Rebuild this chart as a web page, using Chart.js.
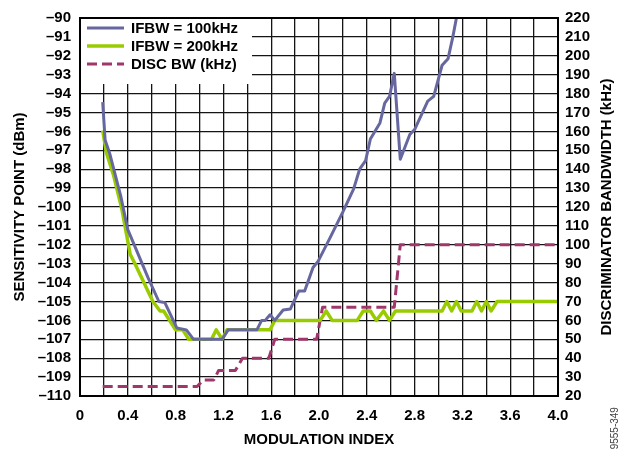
<!DOCTYPE html>
<html>
<head>
<meta charset="utf-8">
<script src="https://cdn.jsdelivr.net/npm/chart.js@4.4.0/dist/chart.umd.min.js"></script>
<style>
    html, body { margin: 0; padding: 0; background: #fff; }
    #wrap { width: 618px; height: 449px; position: relative; }
</style>
</head>
<body>
<div id="wrap"><canvas id="chart"></canvas></div>
<script>
// Values
const ifbw100X = [0.19, 0.21, 0.25, 0.34, 0.40, 0.46, 0.57, 0.66, 0.71, 0.81, 0.89, 0.95, 1.13, 1.19, 1.24, 1.48, 1.52, 1.55, 1.59, 1.63, 1.70, 1.76, 1.83, 1.88, 1.95, 1.99, 2.09, 2.20, 2.29, 2.34, 2.39, 2.43, 2.51, 2.55, 2.59, 2.63, 2.68, 2.76, 2.80, 2.91, 2.96, 3.03, 3.08, 3.12, 3.15];
const ifbw100Y = [-94.45, -96.45, -97.2, -99.4, -101.2, -102.1, -103.75, -105.0, -105.06, -106.4, -106.5, -107.0, -107.0, -107.0, -106.5, -106.5, -106.0, -106.0, -105.7, -106.0, -105.45, -105.4, -104.45, -104.45, -103.2, -102.9, -101.66, -100.26, -99.04, -98.0, -97.55, -96.4, -95.55, -94.5, -94.15, -92.93, -97.47, -96.16, -95.9, -94.4, -94.15, -92.5, -92.15, -91.0, -90.0];

const ifbw200X = [0.19, 0.22, 0.28, 0.35, 0.42, 0.46, 0.61, 0.67, 0.70, 0.80, 0.86, 0.91, 1.10, 1.14, 1.19, 1.23, 1.59, 1.63, 2.01, 2.06, 2.11, 2.32, 2.37, 2.43, 2.48, 2.54, 2.59, 2.64, 3.03, 3.07, 3.11, 3.15, 3.19, 3.28, 3.32, 3.36, 3.40, 3.44, 3.49, 4.0];
const ifbw200Y = [-95.95, -97.1, -98.3, -100.1, -102.5, -103.0, -105.0, -105.5, -105.5, -106.5, -106.5, -107.0, -107.0, -106.5, -107.0, -106.5, -106.5, -106.0, -106.0, -105.5, -106.0, -106.0, -105.5, -105.5, -106.0, -105.5, -106.0, -105.5, -105.5, -105.0, -105.5, -105.0, -105.5, -105.5, -105.0, -105.5, -105.0, -105.5, -105.0, -105.0];

const discX = [0.19, 0.98, 1.03, 1.12, 1.16, 1.30, 1.36, 1.58, 1.63, 1.98, 2.03, 2.63, 2.68, 4.0];
const discY = [25, 25, 28.5, 28.5, 33.5, 33.5, 40, 40, 50, 50, 67, 67, 100, 100];

const seriesNames = ['IFBW = 100kHz', 'IFBW = 200kHz', 'DISC BW (kHz)'];
const seriesColors = ['#6767a0', '#99cc00', '#a0376c'];

const xTitle = 'MODULATION INDEX';
const yTitle = 'SENSITIVITY POINT (dBm)';
const y2Title = 'DISCRIMINATOR BANDWIDTH (kHz)';
const figureId = '09555-349';

function toPoints(xs, ys) {
    return xs.map((x, i) => ({ x: x, y: ys[i] }));
}

const FONT = 'Liberation Sans, Arial, sans-serif';
const gridColor = '#141414';

// legend box in the top-left corner + frame + rotated right title
const extrasPlugin = {
    id: 'extras',
    afterDraw(chart) {
        const ctx = chart.ctx;
        const area = chart.chartArea;
        ctx.save();

        // legend
        ctx.fillStyle = '#fff';
        ctx.fillRect(area.left + 1, area.top + 1, 171, 65);
        const rows = [28, 46, 64];
        ctx.font = 'bold 15px ' + FONT;
        ctx.textBaseline = 'middle';
        ctx.textAlign = 'left';
        rows.forEach((ry, i) => {
            ctx.beginPath();
            ctx.strokeStyle = seriesColors[i];
            ctx.lineWidth = i === 1 ? 3.5 : 3;
            ctx.setLineDash(i === 2 ? [10, 5] : []);
            ctx.moveTo(87, ry);
            ctx.lineTo(124, ry);
            ctx.stroke();
            ctx.setLineDash([]);
            ctx.fillStyle = '#000';
            ctx.fillText(seriesNames[i], 131, ry + 1);
        });

        // frame
        ctx.strokeStyle = '#000';
        ctx.lineWidth = 2;
        ctx.strokeRect(area.left, area.top, area.right - area.left, area.bottom - area.top);

        // right axis title, reads bottom to top
        ctx.translate(607, (area.top + area.bottom) / 2);
        ctx.rotate(-Math.PI / 2);
        ctx.textAlign = 'center';
        ctx.fillStyle = '#000';
        ctx.fillText(y2Title, 0, 0);
        ctx.restore();

        // figure number
        ctx.save();
        ctx.translate(615, 431);
        ctx.rotate(-Math.PI / 2);
        ctx.font = '10px ' + FONT;
        ctx.fillStyle = '#444';
        ctx.textAlign = 'center';
        ctx.textBaseline = 'middle';
        ctx.fillText(figureId, 0, 0);
        ctx.restore();
    }
};

new Chart(document.getElementById('chart'), {
    type: 'line',
    data: {
        datasets: [
            {
                label: seriesNames[0],
                data: toPoints(ifbw100X, ifbw100Y),
                borderColor: seriesColors[0],
                borderWidth: 3,
                yAxisID: 'y'
            },
            {
                label: seriesNames[1],
                data: toPoints(ifbw200X, ifbw200Y),
                borderColor: seriesColors[1],
                borderWidth: 3.5,
                yAxisID: 'y'
            },
            {
                label: seriesNames[2],
                data: toPoints(discX, discY),
                borderColor: seriesColors[2],
                borderWidth: 3,
                borderDash: [10, 5],
                yAxisID: 'y2'
            }
        ]
    },
    options: {
        responsive: true,
        maintainAspectRatio: false,
        animation: false,
        layout: { padding: { top: 14, left: 0, right: 0, bottom: 0 } },
        elements: {
            point: { radius: 0 },
            line: { tension: 0, borderJoinStyle: 'round', borderCapStyle: 'butt' }
        },
        plugins: {
            legend: { display: false },
            tooltip: { enabled: false }
        },
        scales: {
            x: {
                type: 'linear',
                position: 'bottom',
                min: 0,
                max: 4,
                afterFit: s => { s.height = 53; },
                grid: { color: gridColor, lineWidth: 1.3, drawTicks: false },
                border: { color: '#000', width: 2 },
                ticks: {
                    stepSize: 0.2,
                    autoSkip: false,
                    maxRotation: 0,
                    padding: 11,
                    color: '#000',
                    font: { family: FONT, size: 15, weight: 'bold' },
                    callback: function(value, index) {
                        if (index % 2 !== 0) return '';
                        return value === 0 ? '0' : value.toFixed(1);
                    }
                },
                title: {
                    display: true,
                    text: xTitle,
                    color: '#000',
                    font: { family: FONT, size: 15, weight: 'bold' },
                    padding: { top: 0, bottom: 0 }
                }
            },
            y: {
                position: 'left',
                min: -110,
                max: -90,
                afterFit: s => { s.width = 80; },
                grid: { color: gridColor, lineWidth: 1.3, drawTicks: false },
                border: { color: '#000', width: 2 },
                ticks: {
                    stepSize: 1,
                    autoSkip: false,
                    padding: 9,
                    color: '#000',
                    font: { family: FONT, size: 15, weight: 'bold' },
                    callback: v => v < 0 ? '\u2013' + Math.abs(v) : String(v)
                },
                title: {
                    display: true,
                    text: yTitle,
                    color: '#000',
                    font: { family: FONT, size: 15, weight: 'bold' },
                    padding: { top: 11, bottom: 0 }
                }
            },
            y2: {
                position: 'right',
                min: 20,
                max: 220,
                afterFit: s => { s.width = 60; },
                grid: { display: false, drawTicks: false },
                border: { color: '#000', width: 2 },
                ticks: {
                    stepSize: 10,
                    autoSkip: false,
                    padding: 7,
                    color: '#000',
                    font: { family: FONT, size: 15, weight: 'bold' }
                }
            }
        }
    },
    plugins: [extrasPlugin]
});
</script>
</body>
</html>
